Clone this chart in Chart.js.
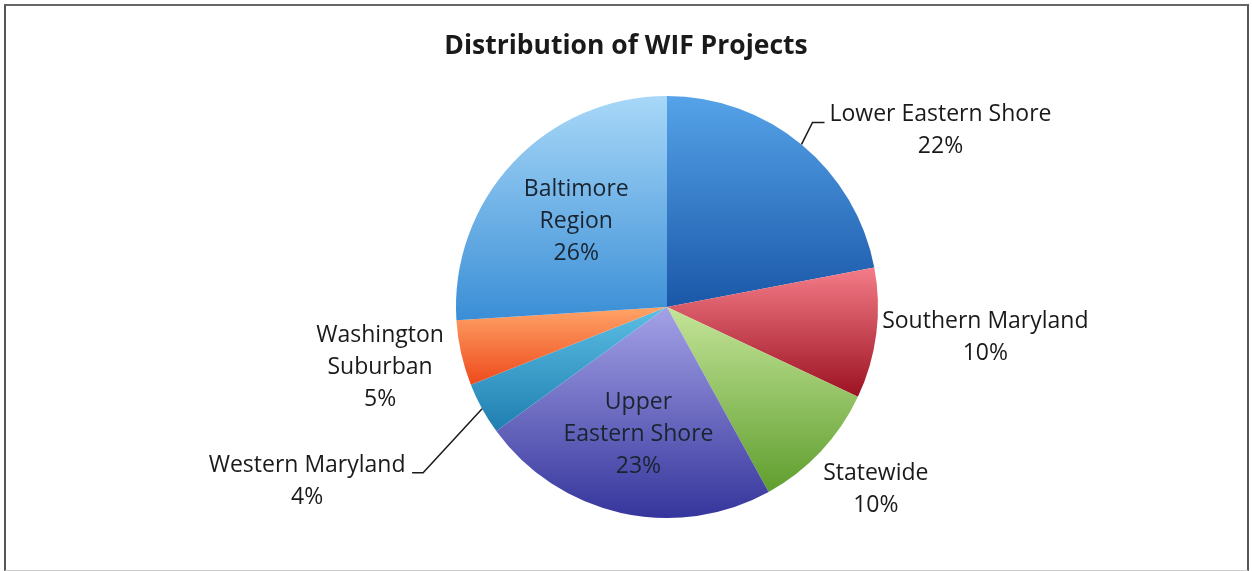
<!DOCTYPE html>
<html>
<head>
<meta charset="utf-8">
<script src="https://cdn.jsdelivr.net/npm/chart.js@4/dist/chart.umd.min.js"></script>
<style>
    html, body { margin: 0; padding: 0; background: #fff; }
    #wrap { position: relative; width: 1252px; height: 571px; }
    #frame {
        position: absolute; left: 4px; top: 4px; width: 1241px; height: 564px;
        border-left: 2px solid #555; border-top: 2px solid #666; border-right: 2px solid #555;
        border-bottom: 1px solid #ccc; pointer-events: none;
    }
    canvas { position: absolute; left: 0; top: 0; }
</style>
</head>
<body>
<div id="wrap">
    <canvas id="pie" width="1252" height="571"></canvas>
    <div id="frame"></div>
</div>
<script>
const chartTitle = 'Distribution of WIF Projects';
const categories = [
    ['Lower Eastern Shore'],
    ['Southern Maryland'],
    ['Statewide'],
    ['Upper', 'Eastern Shore'],
    ['Western Maryland'],
    ['Washington', 'Suburban'],
    ['Baltimore', 'Region']
];
const shares = [22, 10, 10, 23, 4, 5, 26];

// light (top) and dark (bottom) colour of each slice
const lightColors = ['#55a3e8', '#f47c88', '#c4e498', '#a4a2e6', '#5cbfe4', '#ffa468', '#a8d8f8'];
const darkColors = ['#1a57a8', '#9c1222', '#5f9e2e', '#35359c', '#1f7eb0', '#ee4a1c', '#3a8ed6'];

// where each label sits: inside at k * radius, or outside offset from the rim
const labelPlace = [
    { out: true, dx: 139, dy: -14, leader: [[11, -22], [23, -22]] },
    { out: true, dx: 109, dy: 4 },
    { out: true, dx: 55, dy: 38 },
    { out: false, k: 0.62 },
    { out: true, dx: -175, dy: 73, leader: [[-59, 64], [-70, 64]] },
    { out: true, dx: -81, dy: 14 },
    { out: false, k: 0.59 }
];

const FONT = '"Open Sans", Lato, sans-serif';

function sliceGradient(context) {
    const chart = context.chart;
    const area = chart.chartArea;
    const i = context.dataIndex;
    if (!area) return lightColors[i];
    const total = shares.reduce((a, b) => a + b, 0);
    let before = 0;
    for (let j = 0; j < i; j++) before += shares[j];
    const a0 = -Math.PI / 2 + before / total * Math.PI * 2;
    const a1 = -Math.PI / 2 + (before + shares[i]) / total * Math.PI * 2;
    const cx = (area.left + area.right) / 2;
    const cy = (area.top + area.bottom) / 2;
    const r = Math.min(area.right - area.left, area.bottom - area.top) / 2;
    let minY = cy, maxY = cy;
    for (let s = 0; s <= 40; s++) {
        const a = a0 + (a1 - a0) * s / 40;
        const y = cy + Math.sin(a) * r;
        minY = Math.min(minY, y);
        maxY = Math.max(maxY, y);
    }
    const g = chart.ctx.createLinearGradient(cx, minY, cx, maxY);
    g.addColorStop(0, lightColors[i]);
    g.addColorStop(1, darkColors[i]);
    return g;
}

const pieLabels = {
    id: 'pieLabels',
    afterDatasetsDraw(chart) {
        const ctx = chart.ctx;
        const meta = chart.getDatasetMeta(0);
        const total = shares.reduce((a, b) => a + b, 0);
        ctx.save();
        ctx.textAlign = 'center';
        ctx.textBaseline = 'middle';
        // title centred on the whole frame, not on the pie
        ctx.fillStyle = '#1a1a1a';
        ctx.font = 'bold 26.5px ' + FONT;
        ctx.fillText(chartTitle, chart.width / 2, 46);

        ctx.font = '23px ' + FONT;
        meta.data.forEach((arc, i) => {
            const mid = (arc.startAngle + arc.endAngle) / 2;
            const ex = arc.x + Math.cos(mid) * arc.outerRadius;
            const ey = arc.y + Math.sin(mid) * arc.outerRadius;
            const p = labelPlace[i];
            let px, py;
            if (p.out) {
                px = ex + p.dx;
                py = ey + p.dy;
            } else {
                px = arc.x + Math.cos(mid) * arc.outerRadius * p.k;
                py = arc.y + Math.sin(mid) * arc.outerRadius * p.k;
            }
            const lines = categories[i].concat([Math.round(shares[i] / total * 100) + '%']);
            const lh = 32;
            ctx.fillStyle = p.out ? '#1a1a1a' : '#1a2430';
            lines.forEach((t, n) => {
                ctx.fillText(t, px, py + (n - (lines.length - 1) / 2) * lh);
            });
            if (p.leader) {
                ctx.strokeStyle = '#1a1a1a';
                ctx.lineWidth = 1.5;
                ctx.beginPath();
                ctx.moveTo(ex, ey);
                p.leader.forEach(q => ctx.lineTo(ex + q[0], ey + q[1]));
                ctx.stroke();
            }
        });
        ctx.restore();
    }
};

new Chart(document.getElementById('pie').getContext('2d'), {
    type: 'pie',
    data: {
        labels: categories.map(c => c.join(' ')),
        datasets: [{
            data: shares,
            backgroundColor: sliceGradient,
            borderWidth: 0
        }]
    },
    options: {
        responsive: false,
        animation: false,
        events: [],
        layout: { padding: { left: 82, right: 0, top: 96, bottom: 53 } },
        plugins: {
            legend: { display: false },
            tooltip: { enabled: false },
            title: { display: false }
        }
    },
    plugins: [pieLabels]
});
</script>
</body>
</html>
